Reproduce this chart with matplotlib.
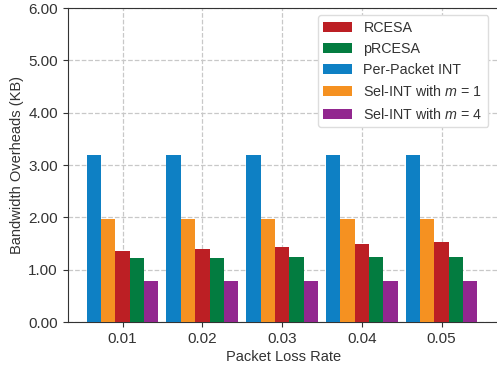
import matplotlib
matplotlib.use('Agg')
import matplotlib.pyplot as plt
import numpy as np

plt.rcParams['font.family'] = ['Liberation Sans', 'DejaVu Sans']
plt.rcParams['mathtext.fontset'] = 'custom'
plt.rcParams['mathtext.rm'] = 'Liberation Sans'
plt.rcParams['mathtext.it'] = 'Liberation Sans:italic'
plt.rcParams['text.color'] = '#333333'
plt.rcParams['axes.labelcolor'] = '#333333'
plt.rcParams['xtick.color'] = '#333333'
plt.rcParams['ytick.color'] = '#333333'
plt.rcParams['axes.edgecolor'] = '#333333'

loss_rates = ['0.01', '0.02', '0.03', '0.04', '0.05']
per_packet = [3.20, 3.20, 3.20, 3.20, 3.20]
sel_int_m1 = [1.97, 1.97, 1.97, 1.97, 1.97]
rcesa = [1.36, 1.40, 1.44, 1.49, 1.53]
prcesa = [1.22, 1.22, 1.24, 1.24, 1.24]
sel_int_m4 = [0.78, 0.78, 0.78, 0.78, 0.78]

fig = plt.figure(figsize=(4.97, 3.68), dpi=100)
ax = fig.add_axes([0.136, 0.125, 0.868, 0.853])

x = np.arange(len(loss_rates))
w = 0.18
b_pp = ax.bar(x - 2 * w, per_packet, w, color='#0e80c4', zorder=3)
b_m1 = ax.bar(x - w, sel_int_m1, w, color='#f59121', zorder=3)
b_rc = ax.bar(x, rcesa, w, color='#bc1f24', zorder=3)
b_prc = ax.bar(x + w, prcesa, w, color='#037c40', zorder=3)
b_m4 = ax.bar(x + 2 * w, sel_int_m4, w, color='#92278f', zorder=3)

ax.set_xlim(-0.69, 4.72)
ax.set_ylim(0, 6)
ax.set_xticks(x)
ax.set_xticklabels(loss_rates)
ax.set_yticks(np.arange(0, 7, 1))
ax.set_yticklabels([f'{v:.2f}' for v in np.arange(0, 7, 1)])
ax.tick_params(labelsize=11)
ax.grid(True, linestyle='--', color='#c8c8c8', linewidth=0.9, zorder=0)

ax.set_xlabel('Packet Loss Rate', fontsize=10.5, labelpad=3)
ax.set_ylabel('Bandwidth Overheads (KB)', fontsize=10.5, labelpad=3)

ax.legend([b_rc, b_prc, b_pp, b_m1, b_m4],
          ['RCESA', 'pRCESA', 'Per-Packet INT',
           'Sel-INT with $m$ = 1', 'Sel-INT with $m$ = 4'],
          loc='upper right', bbox_to_anchor=(0.992, 1.0),
          fontsize=10.3, framealpha=1, edgecolor='#dddddd')

fig.savefig('out.png', dpi=100)
